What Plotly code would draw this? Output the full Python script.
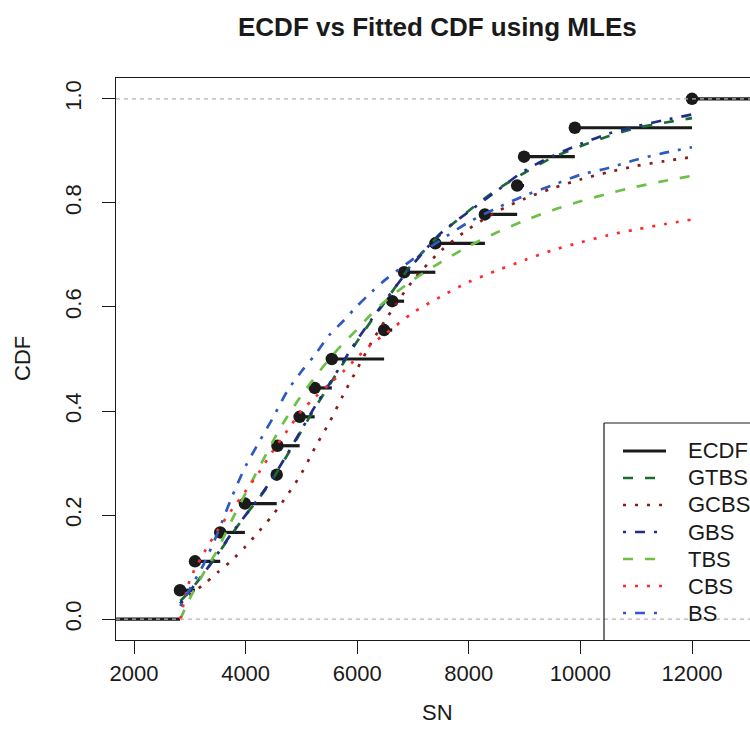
import plotly.graph_objects as go

# ---------------- data ----------------
ECDF_X = [2824, 3093, 3545, 3987, 4557, 4570, 4968, 5238, 5545, 6482,
          6627, 6840, 7400, 8288, 8866, 8990, 9900, 12000]
ECDF_Y = [0.0556, 0.1111, 0.1667, 0.2222, 0.2778, 0.3333, 0.3889, 0.4444, 0.5000,
          0.5556, 0.6111, 0.6667, 0.7222, 0.7778, 0.8333, 0.8889, 0.9444, 1.0000]

CURVE_X = [2830, 3000, 3250, 3500, 3750, 4000, 4250, 4500, 4750, 5000, 5250, 5500,
           5750, 6000, 6250, 6500, 7000, 7500, 8000, 8500, 9000, 9500, 10000,
           10500, 11000, 11500, 12000]

GTBS = [0.035, 0.054, 0.088, 0.125, 0.163, 0.200, 0.234, 0.272, 0.316, 0.362, 0.407, 0.450,
        0.492, 0.534, 0.573, 0.610, 0.685, 0.740, 0.785, 0.825, 0.858, 0.887, 0.909,
        0.928, 0.944, 0.954, 0.963]
GCBS = [0.030, 0.047, 0.067, 0.090, 0.113, 0.140, 0.170, 0.202, 0.239, 0.280, 0.331, 0.378,
        0.431, 0.481, 0.531, 0.574, 0.651, 0.708, 0.750, 0.783, 0.808, 0.828, 0.845,
        0.859, 0.871, 0.880, 0.888]
GBS = [0.030, 0.054, 0.088, 0.126, 0.165, 0.200, 0.235, 0.274, 0.318, 0.364, 0.410, 0.452,
       0.495, 0.537, 0.575, 0.612, 0.682, 0.742, 0.783, 0.823, 0.862, 0.890, 0.913,
       0.933, 0.947, 0.959, 0.970]
TBS = [0.000, 0.040, 0.089, 0.134, 0.190, 0.242, 0.293, 0.344, 0.390, 0.430, 0.466, 0.500,
       0.530, 0.557, 0.586, 0.611, 0.652, 0.686, 0.717, 0.743, 0.766, 0.786, 0.803,
       0.818, 0.831, 0.842, 0.852]
CBS = [0.000, 0.075, 0.127, 0.171, 0.210, 0.246, 0.284, 0.325, 0.363, 0.400, 0.427, 0.452,
       0.476, 0.503, 0.528, 0.548, 0.589, 0.620, 0.648, 0.670, 0.690, 0.709, 0.724,
       0.738, 0.749, 0.759, 0.768]
BS = [0.025, 0.058, 0.106, 0.166, 0.234, 0.294, 0.342, 0.389, 0.439, 0.476, 0.509, 0.546,
      0.573, 0.602, 0.628, 0.652, 0.692, 0.729, 0.763, 0.790, 0.814, 0.834, 0.854,
      0.867, 0.883, 0.896, 0.907]

SERIES_NAMES = ["GTBS", "GCBS", "GBS", "TBS", "CBS", "BS"]
SERIES_VALUES = [GTBS, GCBS, GBS, TBS, CBS, BS]

X_TICKS = [2000, 4000, 6000, 8000, 10000, 12000]
Y_TICKS = [0.0, 0.2, 0.4, 0.6, 0.8, 1.0]
Y_TICK_TEXT = ["0.0", "0.2", "0.4", "0.6", "0.8", "1.0"]

TITLE = "ECDF vs Fitted CDF using MLEs"
X_LABEL = "SN"
Y_LABEL = "CDF"

# ---------------- styles ----------------
W, H = 750, 746
ML, MR, MT, MB = 116, 0, 78, 106
X_RANGE = [1677, 13039]
Y_RANGE = [-0.04, 1.04]
FONT = "Liberation Sans, Arial, Helvetica, sans-serif"
TXT = "#1a1a1a"

DASHED = "10px,12px"
DOTTED = "3px,9px"
DOTDASH = "3px,9px,10px,9px"
STYLES = {
    "GTBS": ("#1b6b35", DASHED),
    "GCBS": ("#8b1a1a", DOTTED),
    "GBS": ("#1f2d86", DOTDASH),
    "TBS": ("#6cbf47", DASHED),
    "CBS": ("#ff2b2b", DOTTED),
    "BS": ("#2e5bbf", DOTDASH),
}
LW = 2.7

PW = W - ML - MR
PH = H - MT - MB


def px_x(p):
    return (p - ML) / PW


def px_y(p):
    return (H - MB - p) / PH


fig = go.Figure()

# ECDF horizontal steps
ex, ey = [X_RANGE[0] - 500, ECDF_X[0], None], [0, 0, None]
for i, (x, y) in enumerate(zip(ECDF_X, ECDF_Y)):
    nxt = ECDF_X[i + 1] if i + 1 < len(ECDF_X) else X_RANGE[1] + 500
    ex += [x, nxt, None]
    ey += [y, y, None]
fig.add_trace(go.Scatter(x=ex, y=ey, mode="lines", line=dict(color=TXT, width=3.2),
                         showlegend=False, hoverinfo="skip"))
fig.add_trace(go.Scatter(x=ECDF_X, y=ECDF_Y, mode="markers",
                         marker=dict(color=TXT, size=12.5, line=dict(width=0)),
                         showlegend=False))

for name, vals in zip(SERIES_NAMES, SERIES_VALUES):
    col, dash = STYLES[name]
    fig.add_trace(go.Scatter(x=CURVE_X, y=vals, mode="lines", name=name,
                             line=dict(color=col, width=LW, dash=dash, shape="spline", smoothing=0.8),
                             showlegend=False))

shapes = []
# reference lines at 0 and 1 (gray dashed)
for yv in (0, 1):
    shapes.append(dict(type="line", xref="paper", yref="y", x0=0, x1=1, y0=yv, y1=yv,
                       line=dict(color="#b3b3b3", width=1.2, dash="4px,4px"), layer="above"))

# legend frame (clipped by the plot region in the reference)
LEG_L, LEG_T = 604, 423
shapes.append(dict(type="line", xref="paper", yref="paper", x0=px_x(LEG_L), x1=px_x(LEG_L),
                   y0=0, y1=px_y(LEG_T), line=dict(color=TXT, width=1.2), layer="above"))
shapes.append(dict(type="line", xref="paper", yref="paper", x0=px_x(LEG_L), x1=1.05,
                   y0=px_y(LEG_T), y1=px_y(LEG_T), line=dict(color=TXT, width=1.2), layer="above"))

annotations = []
LEG_NAMES = ["ECDF"] + SERIES_NAMES
ROW0, ROW_STEP = 451, 27
for k, name in enumerate(LEG_NAMES):
    yy = px_y(ROW0 + k * ROW_STEP)
    if name == "ECDF":
        col, dash, w = TXT, "solid", 3.2
    else:
        col, dash = STYLES[name]
        w = LW
    shapes.append(dict(type="line", xref="paper", yref="paper", x0=px_x(623), x1=px_x(666),
                       y0=yy, y1=yy, line=dict(color=col, width=w, dash=dash), layer="above"))
    annotations.append(dict(text=name, xref="paper", yref="paper", x=px_x(686), y=yy,
                            xanchor="left", yanchor="middle", showarrow=False,
                            font=dict(family=FONT, size=22, color=TXT)))

annotations.append(dict(text="<b>" + TITLE + "</b>", xref="paper", yref="paper",
                        x=px_x(438), y=px_y(27), xanchor="center", yanchor="middle",
                        showarrow=False, font=dict(family=FONT, size=26, color=TXT)))
annotations.append(dict(text=X_LABEL, xref="paper", yref="paper", x=px_x(438), y=px_y(712),
                        xanchor="center", yanchor="middle", showarrow=False,
                        font=dict(family=FONT, size=22, color=TXT)))
annotations.append(dict(text=Y_LABEL, xref="paper", yref="paper", x=px_x(22), y=px_y(359),
                        xanchor="center", yanchor="middle", textangle=-90, showarrow=False,
                        font=dict(family=FONT, size=22, color=TXT)))

fig.update_layout(
    width=W, height=H, margin=dict(l=ML, r=MR, t=MT, b=MB, pad=0),
    paper_bgcolor="white", plot_bgcolor="white",
    font=dict(family=FONT, size=22, color=TXT),
    showlegend=False, shapes=shapes, annotations=annotations,
    xaxis=dict(range=X_RANGE, tickvals=X_TICKS, tickformat="d", ticks="outside", ticklen=13,
               tickwidth=1.2, tickcolor=TXT, showline=True, linecolor=TXT, linewidth=1.2,
               mirror=True, showgrid=False, zeroline=False,
               tickfont=dict(family=FONT, size=22, color=TXT)),
    yaxis=dict(range=Y_RANGE, tickvals=Y_TICKS, ticktext=Y_TICK_TEXT, tickangle=-90,
               ticks="outside", ticklen=13, tickwidth=1.2, tickcolor=TXT, showline=True,
               linecolor=TXT, linewidth=1.2, mirror=False, showgrid=False, zeroline=False,
               ticklabelstandoff=12,
               tickfont=dict(family=FONT, size=22, color=TXT)),
)

fig.write_html("out.html")
